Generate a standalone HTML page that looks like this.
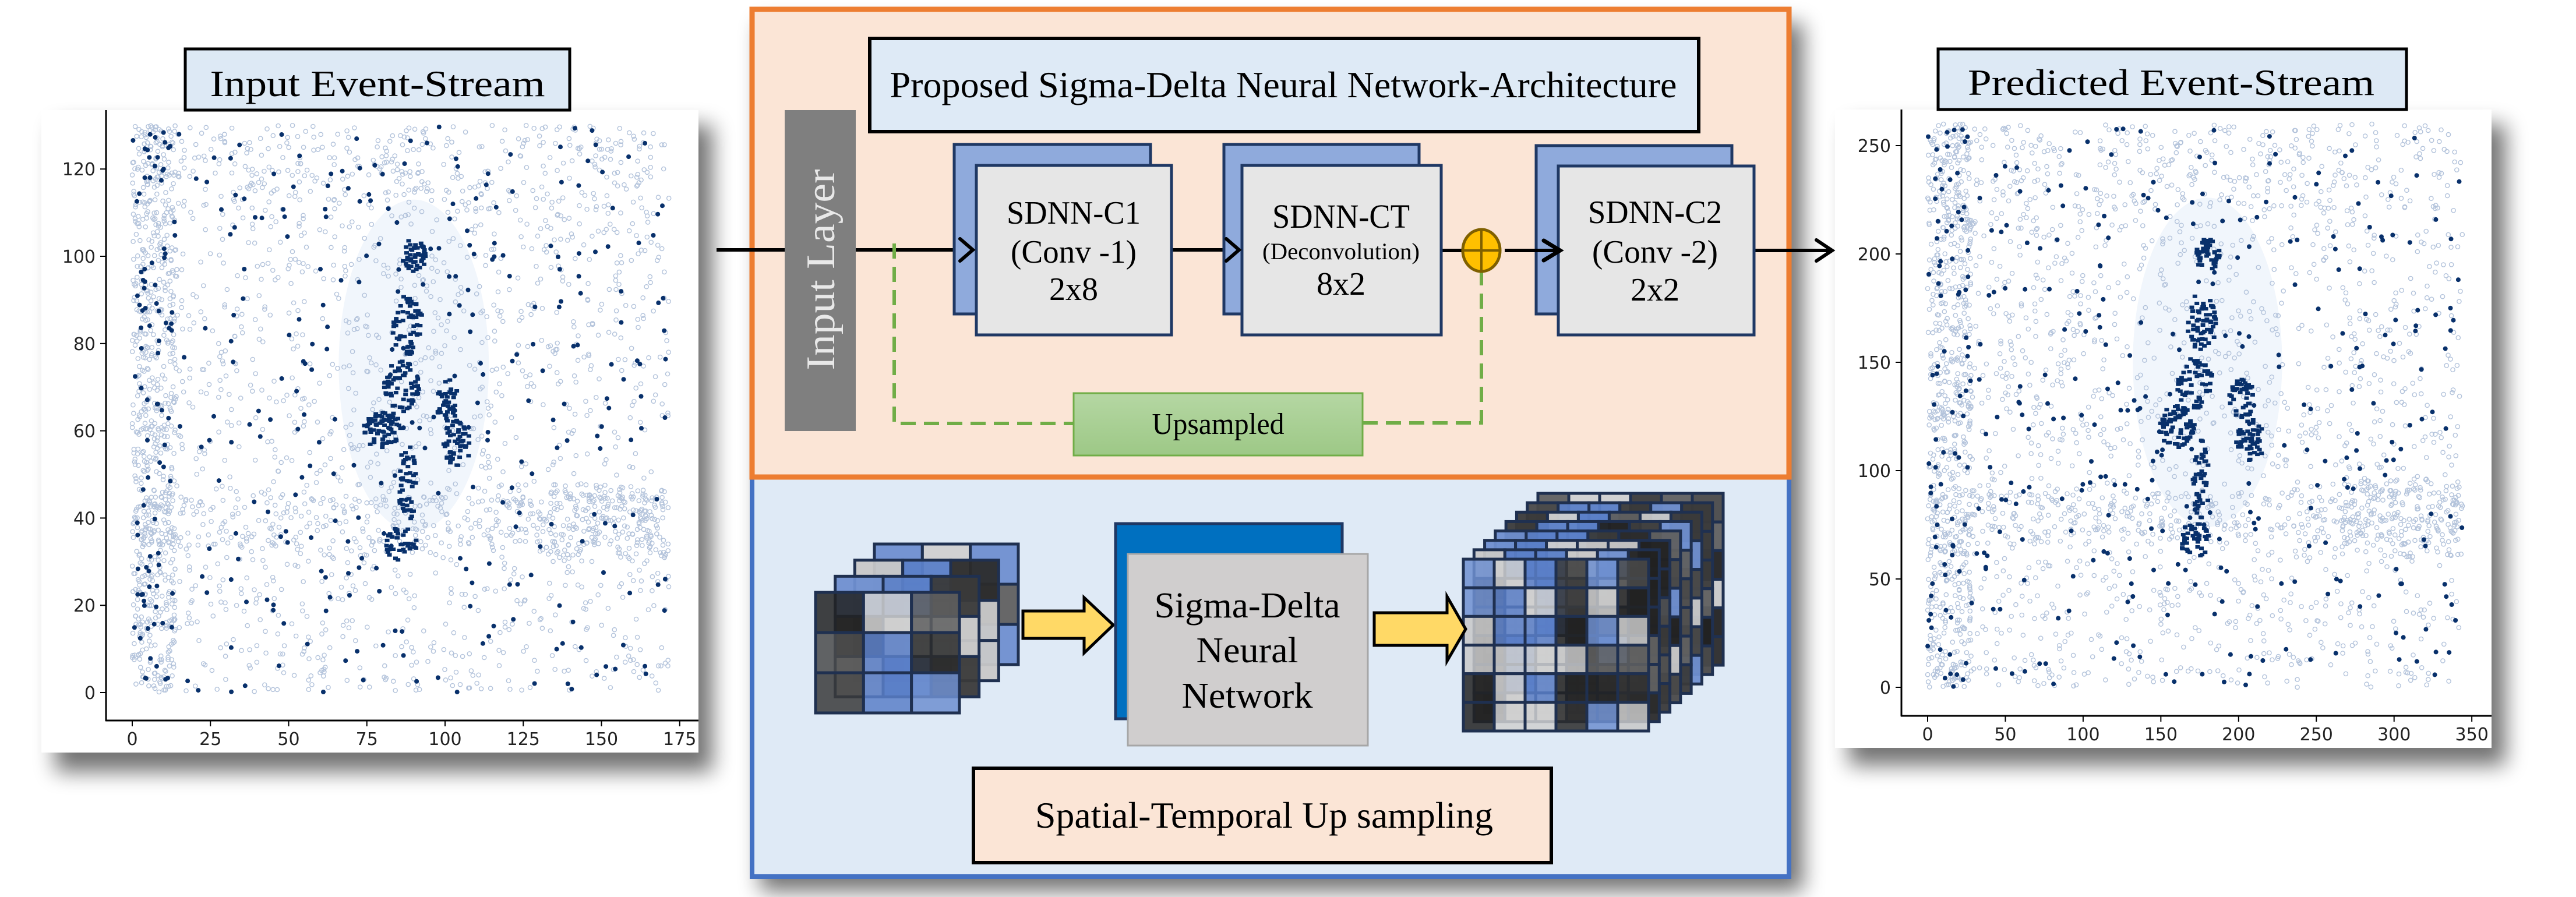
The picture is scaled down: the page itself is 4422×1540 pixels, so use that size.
<!DOCTYPE html>
<html><head><meta charset="utf-8">
<style>
html,body{margin:0;padding:0;background:#fff;width:4422px;height:1540px;overflow:hidden;}
svg{display:block;}
text{font-family:"Liberation Serif",serif;}
.tk{font-family:"DejaVu Sans",sans-serif;font-size:30px;fill:#222;}
</style></head>
<body>
<svg id="s" width="4422" height="1540" viewBox="0 0 4422 1540" xmlns="http://www.w3.org/2000/svg" font-family="Liberation Serif, serif">
<defs>
<filter id="sh" x="-10%" y="-10%" width="125%" height="130%"><feGaussianBlur stdDeviation="18"/></filter>
<filter id="gl" x="-30%" y="-100%" width="160%" height="300%"><feGaussianBlur stdDeviation="8"/></filter>
<linearGradient id="ug" x1="0" y1="0" x2="0" y2="1"><stop offset="0" stop-color="#b5d7a3"/><stop offset="1" stop-color="#9dc886"/></linearGradient>
</defs>
<rect x="95" y="215" width="1128" height="1110" fill="#000" opacity="0.55" filter="url(#sh)"/>
<rect x="3174" y="214" width="1127" height="1100" fill="#000" opacity="0.55" filter="url(#sh)"/>
<rect x="1305" y="40" width="1790" height="1490" fill="#000" opacity="0.55" filter="url(#sh)"/>

<rect x="71" y="189" width="1128" height="1103" fill="#fff"/>
<g id="plotL"></g>
<line x1="182" y1="189" x2="182" y2="1238" stroke="#000" stroke-width="3"/>
<line x1="181" y1="1237" x2="1199" y2="1237" stroke="#000" stroke-width="3"/>
<g id="ticksL"></g>
<rect x="318" y="84" width="660" height="105" fill="#dde9f5" stroke="#000" stroke-width="5"/>
<text x="648" y="165" font-size="64" text-anchor="middle" textLength="575" lengthAdjust="spacingAndGlyphs">Input Event-Stream</text>

<rect x="3150" y="188" width="1127" height="1096" fill="#fff"/>
<g id="plotR"></g>
<line x1="3264" y1="188" x2="3264" y2="1230" stroke="#000" stroke-width="3"/>
<line x1="3263" y1="1229" x2="4277" y2="1229" stroke="#000" stroke-width="3"/>
<g id="ticksR"></g>
<rect x="3327" y="84" width="804" height="104" fill="#dde9f5" stroke="#000" stroke-width="5"/>
<text x="3727" y="163" font-size="64" text-anchor="middle" textLength="698" lengthAdjust="spacingAndGlyphs">Predicted Event-Stream</text>

<rect x="1291" y="819" width="1780" height="686" fill="#dfeaf6" stroke="#4472c4" stroke-width="8"/>
<rect x="1291" y="16" width="1780" height="803" fill="#fbe5d6" stroke="#ed7d31" stroke-width="9"/>

<rect x="1493" y="66" width="1423" height="160" fill="#deeaf6" stroke="#000" stroke-width="6"/>
<text x="2203" y="167" font-size="64" text-anchor="middle" textLength="1351" lengthAdjust="spacingAndGlyphs">Proposed Sigma-Delta Neural Network-Architecture</text>

<rect x="1347" y="189" width="122" height="551" fill="#7f7f7f"/>
<text transform="translate(1432,463) rotate(-90)" font-size="70" fill="#e8e8e8" text-anchor="middle" textLength="345" lengthAdjust="spacingAndGlyphs">Input Layer</text>

<line x1="1230" y1="429" x2="1347" y2="429" stroke="#000" stroke-width="6"/>
<line x1="1469" y1="429" x2="1670" y2="429" stroke="#000" stroke-width="6"/>
<line x1="2011" y1="429" x2="2127" y2="429" stroke="#000" stroke-width="6"/>
<line x1="2474" y1="430" x2="2512" y2="430" stroke="#000" stroke-width="6"/>
<line x1="3011" y1="430" x2="3145" y2="430" stroke="#000" stroke-width="6"/>
<polyline points="3118,412 3145,430 3118,448" fill="none" stroke="#000" stroke-width="6" stroke-linecap="round"/>

<polyline points="1535,418 1535,727 1843,727" fill="none" stroke="#70ad47" stroke-width="6" stroke-dasharray="26,14"/>
<polyline points="2339,726 2543,726 2543,468" fill="none" stroke="#70ad47" stroke-width="6" stroke-dasharray="26,14"/>
<rect x="1843" y="675" width="496" height="107" fill="url(#ug)" stroke="#70ad47" stroke-width="3"/>
<text x="2091" y="745" font-size="52" text-anchor="middle" textLength="227" lengthAdjust="spacingAndGlyphs">Upsampled</text>

<rect x="1638" y="248" width="337" height="291" fill="#8faadc" stroke="#1f3864" stroke-width="5"/>
<rect x="1676" y="284" width="335" height="291" fill="#e6e6e6" stroke="#1f3864" stroke-width="5"/>
<rect x="2101" y="248" width="335" height="291" fill="#8faadc" stroke="#1f3864" stroke-width="5"/>
<rect x="2132" y="284" width="342" height="291" fill="#e6e6e6" stroke="#1f3864" stroke-width="5"/>
<rect x="2637" y="250" width="336" height="289" fill="#8faadc" stroke="#1f3864" stroke-width="5"/>
<rect x="2675" y="285" width="336" height="290" fill="#e6e6e6" stroke="#1f3864" stroke-width="5"/>

<polyline points="1648,410 1670,429 1648,448" fill="none" stroke="#000" stroke-width="6" stroke-linecap="round"/>
<polyline points="2105,410 2127,429 2105,448" fill="none" stroke="#000" stroke-width="6" stroke-linecap="round"/>

<text x="1843" y="384" font-size="56" text-anchor="middle" textLength="230" lengthAdjust="spacingAndGlyphs">SDNN-C1</text>
<text x="1843" y="451" font-size="56" text-anchor="middle" textLength="216" lengthAdjust="spacingAndGlyphs">(Conv -1)</text>
<text x="1843" y="515" font-size="56" text-anchor="middle">2x8</text>
<text x="2302" y="391" font-size="58" text-anchor="middle" textLength="236" lengthAdjust="spacingAndGlyphs">SDNN-CT</text>
<text x="2302" y="445" font-size="40" text-anchor="middle" textLength="270" lengthAdjust="spacingAndGlyphs">(Deconvolution)</text>
<text x="2302" y="506" font-size="56" text-anchor="middle">8x2</text>
<text x="2841" y="383" font-size="56" text-anchor="middle" textLength="230" lengthAdjust="spacingAndGlyphs">SDNN-C2</text>
<text x="2841" y="451" font-size="56" text-anchor="middle" textLength="216" lengthAdjust="spacingAndGlyphs">(Conv -2)</text>
<text x="2841" y="516" font-size="56" text-anchor="middle">2x2</text>

<line x1="2585" y1="430" x2="2680" y2="430" stroke="#a9d18e" stroke-width="30" stroke-linecap="round" filter="url(#gl)" opacity="0.9"/>
<line x1="2583" y1="430" x2="2678" y2="430" stroke="#000" stroke-width="6"/>
<polyline points="2650,413 2678,430 2650,447" fill="none" stroke="#000" stroke-width="7" stroke-linecap="round"/>
<ellipse cx="2543" cy="430" rx="32" ry="36" fill="#ffc000" stroke="#7f6000" stroke-width="5"/>
<line x1="2543" y1="394" x2="2543" y2="466" stroke="#7f6000" stroke-width="4"/>
<line x1="2511" y1="430" x2="2575" y2="430" stroke="#7f6000" stroke-width="4"/>

<g id="cubeL"></g>
<g id="cubeR"></g>
<polygon points="1756,1049 1861,1049 1861,1026 1911,1073 1861,1121 1861,1096 1756,1096" fill="#ffd966" stroke="#000" stroke-width="5"/>
<polygon points="2359,1052 2484,1052 2484,1024 2516,1080 2484,1135 2484,1108 2359,1108" fill="#ffd966" stroke="#000" stroke-width="5"/>
<rect x="1915" y="899" width="389" height="335" fill="#0070c0" stroke="#1f3864" stroke-width="5"/>
<rect x="1936" y="951" width="412" height="329" fill="#d0cece" stroke="#a6a6a6" stroke-width="3"/>
<text x="2141" y="1060" font-size="62" text-anchor="middle" textLength="319" lengthAdjust="spacingAndGlyphs">Sigma-Delta</text>
<text x="2141" y="1137" font-size="62" text-anchor="middle" textLength="175" lengthAdjust="spacingAndGlyphs">Neural</text>
<text x="2141" y="1215" font-size="62" text-anchor="middle" textLength="225" lengthAdjust="spacingAndGlyphs">Network</text>

<rect x="1671" y="1319" width="992" height="162" fill="#fbe5d6" stroke="#000" stroke-width="6"/>
<text x="2170" y="1421" font-size="64" text-anchor="middle" textLength="786" lengthAdjust="spacingAndGlyphs">Spatial-Temporal Up sampling</text>
</svg>
<script>
(function(){
var NS="http://www.w3.org/2000/svg";
function el(p,t,a){var e=document.createElementNS(NS,t);for(var k in a)e.setAttribute(k,a[k]);p.appendChild(e);return e;}
var seed=12345;function rnd(){seed=(seed*1103515245+12345)&0x7fffffff;return seed/0x7fffffff;}
function ticks(g,vals,isX,map,fixed){
  vals.forEach(function(v){var p=map(v);
    if(isX){el(g,"line",{x1:p,y1:fixed,x2:p,y2:fixed+10,stroke:"#000","stroke-width":2});
      var t=el(g,"text",{x:p,y:fixed+42,"text-anchor":"middle","class":"tk"});t.textContent=v;}
    else{el(g,"line",{x1:fixed-10,y1:p,x2:fixed,y2:p,stroke:"#000","stroke-width":2});
      var t=el(g,"text",{x:fixed-18,y:p+11,"text-anchor":"end","class":"tk"});t.textContent=v;}
  });
}
ticks(document.getElementById("ticksL"),[0,20,40,60,80,100,120],false,function(v){return 1189-v*7.49;},182);
ticks(document.getElementById("ticksL"),[0,25,50,75,100,125,150,175],true,function(v){return 227+v*5.37;},1237);
ticks(document.getElementById("ticksR"),[0,50,100,150,200,250],false,function(v){return 1180-v*3.72;},3264);
ticks(document.getElementById("ticksR"),[0,50,100,150,200,250,300,350],true,function(v){return 3309+v*2.669;},1229);

var parts=[[90,100,4,4,45],[88,84,5,7,60],[86,70,6,6,60],[80,60,6,5,70],[101,66,4,6,40],[104,57,5,5,50],[88,48,3,9,45],[86,34,5,4,40]];
function plot(id,x0,y0,sx,sy,scale){
  var g=document.getElementById(id);
  el(g,"ellipse",{cx:x0+90*scale*sx,cy:y0-75*scale*sy,rx:24*scale*sx,ry:38*scale*sy,fill:"#f1f6fc"});
  var i,x,y;
  for(i=0;i<2800;i++){
    var r=rnd();
    if(r<0.2){x=rnd()*14;y=rnd()*130;}
    else if(r<0.3){x=rnd()*172;y=33+rnd()*12;}
    else if(r<0.36){x=130+rnd()*42;y=30+rnd()*18;}
    else if(r<0.42){x=rnd()*172;y=110+rnd()*20;}
    else {x=rnd()*172;y=rnd()*130;}
    el(g,"circle",{cx:(x0+x*scale*sx).toFixed(1),cy:(y0-y*scale*sy).toFixed(1),r:3.6,fill:"none",stroke:"#b3c3db","stroke-width":1.4});
  }
  for(i=0;i<380;i++){
    var r2=rnd();
    if(r2<0.12){x=rnd()*14;y=rnd()*130;}else{x=rnd()*172;y=rnd()*130;}
    el(g,"circle",{cx:(x0+x*scale*sx).toFixed(1),cy:(y0-y*scale*sy).toFixed(1),r:4,fill:"#08306b"});
  }
  parts.forEach(function(p){
    for(var k=0;k<p[4];k++){var a=rnd()*6.283,d=Math.sqrt(rnd());
      x=p[0]+Math.cos(a)*d*p[2];y=p[1]+Math.sin(a)*d*p[3];
      el(g,"rect",{x:(x0+x*scale*sx-4).toFixed(1),y:(y0-y*scale*sy-3).toFixed(1),width:8,height:6,fill:"#08306b"});}
  });
}
plot("plotL",227,1189,5.37,7.49,1);
plot("plotR",3309,1180,2.669,3.72,2);

function cube(id,fx,fy,fw,fh,nc,nr,dx,dy,layers,s){
  seed=s;var g=document.getElementById(id);
  var cols=["#3a3a3a","#222","#4a4a4a","#6f8fd0","#2b2b2b","#c8c8c8","#606060"];
  for(var L=layers-1;L>=0;L--){
    var ox=fx+dx*L/(layers-1),oy=fy+dy*L/(layers-1);
    var cw=fw/nc,ch=fh/nr;
    for(var c=0;c<nc;c++)for(var r=0;r<nr;r++){
      var col=cols[Math.floor(rnd()*cols.length)];
      if(c==1||(nc>4&&(c==2)))col=rnd()<0.65?"#5b7fc8":"#d0d0d0";
      el(g,"rect",{x:ox+c*cw,y:oy+r*ch,width:cw,height:ch,fill:col,"fill-opacity":L==0?0.85:0.95,stroke:"#1f3050","stroke-width":5});
    }
  }
}
cube("cubeL",1400,1017,247,207,3,3,101,-83,4,77);
cube("cubeR",2512,960,318,295,6,6,128,-113,8,99);
})();
</script>
</body></html>
